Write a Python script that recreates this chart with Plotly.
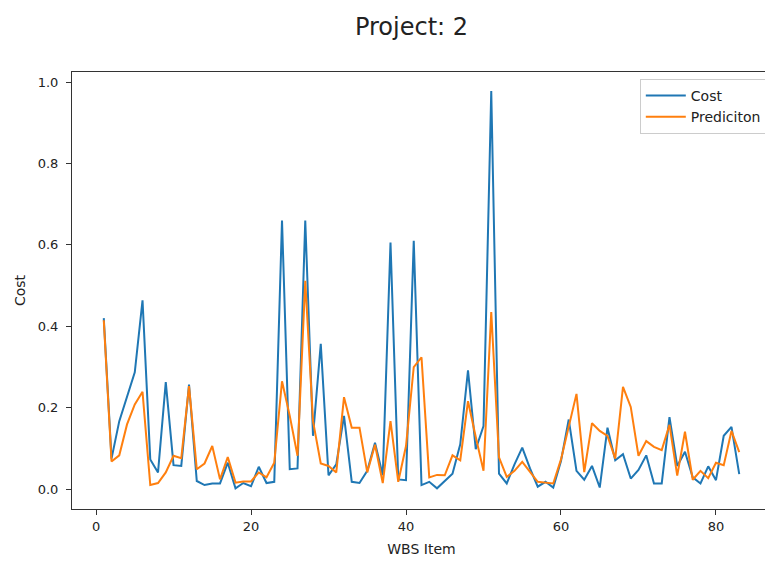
import plotly.graph_objects as go

wbs_item = list(range(1, 84))

cost = [0.420, 0.075, 0.167, 0.229, 0.287, 0.464, 0.073, 0.041, 0.263, 0.059,
        0.057, 0.257, 0.020, 0.010, 0.014, 0.014, 0.065, 0.002, 0.015, 0.007,
        0.055, 0.015, 0.018, 0.660, 0.049, 0.051, 0.660, 0.131, 0.357, 0.034,
        0.061, 0.180, 0.018, 0.015, 0.045, 0.114, 0.034, 0.606, 0.024, 0.022,
        0.610, 0.010, 0.018, 0.002, 0.020, 0.038, 0.110, 0.292, 0.098, 0.155,
        0.978, 0.038, 0.014, 0.061, 0.102, 0.051, 0.006, 0.018, 0.004, 0.069,
        0.171, 0.045, 0.023, 0.057, 0.004, 0.151, 0.071, 0.086, 0.026, 0.047,
        0.083, 0.014, 0.014, 0.177, 0.057, 0.092, 0.029, 0.014, 0.056, 0.022,
        0.131, 0.153, 0.037]

prediction = [0.415, 0.068, 0.083, 0.159, 0.208, 0.239, 0.010, 0.015, 0.041, 0.082,
              0.076, 0.253, 0.049, 0.063, 0.106, 0.024, 0.079, 0.016, 0.019, 0.019,
              0.041, 0.029, 0.065, 0.265, 0.180, 0.082, 0.512, 0.167, 0.063, 0.057,
              0.041, 0.226, 0.151, 0.151, 0.041, 0.109, 0.015, 0.167, 0.018, 0.106,
              0.300, 0.324, 0.029, 0.035, 0.034, 0.083, 0.071, 0.216, 0.128, 0.045,
              0.435, 0.078, 0.030, 0.045, 0.067, 0.043, 0.018, 0.016, 0.014, 0.073,
              0.155, 0.234, 0.042, 0.162, 0.143, 0.131, 0.075, 0.251, 0.202, 0.082,
              0.118, 0.104, 0.096, 0.158, 0.033, 0.141, 0.023, 0.045, 0.027, 0.065,
              0.059, 0.143, 0.091]

x_ticks = [0, 20, 40, 60, 80]
y_ticks = [0.0, 0.2, 0.4, 0.6, 0.8, 1.0]

font = "DejaVu Sans"

fig = go.Figure()
fig.add_trace(go.Scatter(x=wbs_item, y=cost, mode="lines", name="Cost",
                         line=dict(color="#1f77b4", width=2)))
fig.add_trace(go.Scatter(x=wbs_item, y=prediction, mode="lines", name="Prediciton",
                         line=dict(color="#ff7f0e", width=2)))

axis_common = dict(showgrid=False, zeroline=False, showline=True, linecolor="#333333",
                   linewidth=1, mirror=True, ticks="outside", ticklen=5, tickwidth=1,
                   tickcolor="#333333", automargin=False,
                   tickfont=dict(family=font, size=13, color="#222222"))

# page body adds an 8px offset, so the figure is sized to 765x553
fig.update_layout(
    width=765, height=553, autosize=False,
    paper_bgcolor="white", plot_bgcolor="white",
    margin=dict(l=64, r=2, t=64, b=52, autoexpand=False),
    font=dict(family=font, color="#222222"),
    title=dict(text="Project: 2", x=0.5275, xanchor="center", y=0.967, yanchor="middle",
               font=dict(family=font, size=24, color="#222222")),
    xaxis=dict(range=[-3.1, 87.1], tickvals=x_ticks,
               title=dict(text="WBS Item", font=dict(family=font, size=14), standoff=11),
               **axis_common),
    yaxis=dict(range=[-0.0488, 1.0248], tickvals=y_ticks, tickformat=".1f",
               ticklabelstandoff=5,
               title=dict(text="Cost", font=dict(family=font, size=14), standoff=8),
               **axis_common),
    legend=dict(x=0.994, y=0.984, xanchor="right", yanchor="top",
                bgcolor="rgba(255,255,255,0.8)", bordercolor="#cccccc", borderwidth=1,
                font=dict(family=font, size=14, color="#222222"),
                tracegroupgap=0, itemwidth=40),
    showlegend=True,
)

fig.write_html("out.html")
